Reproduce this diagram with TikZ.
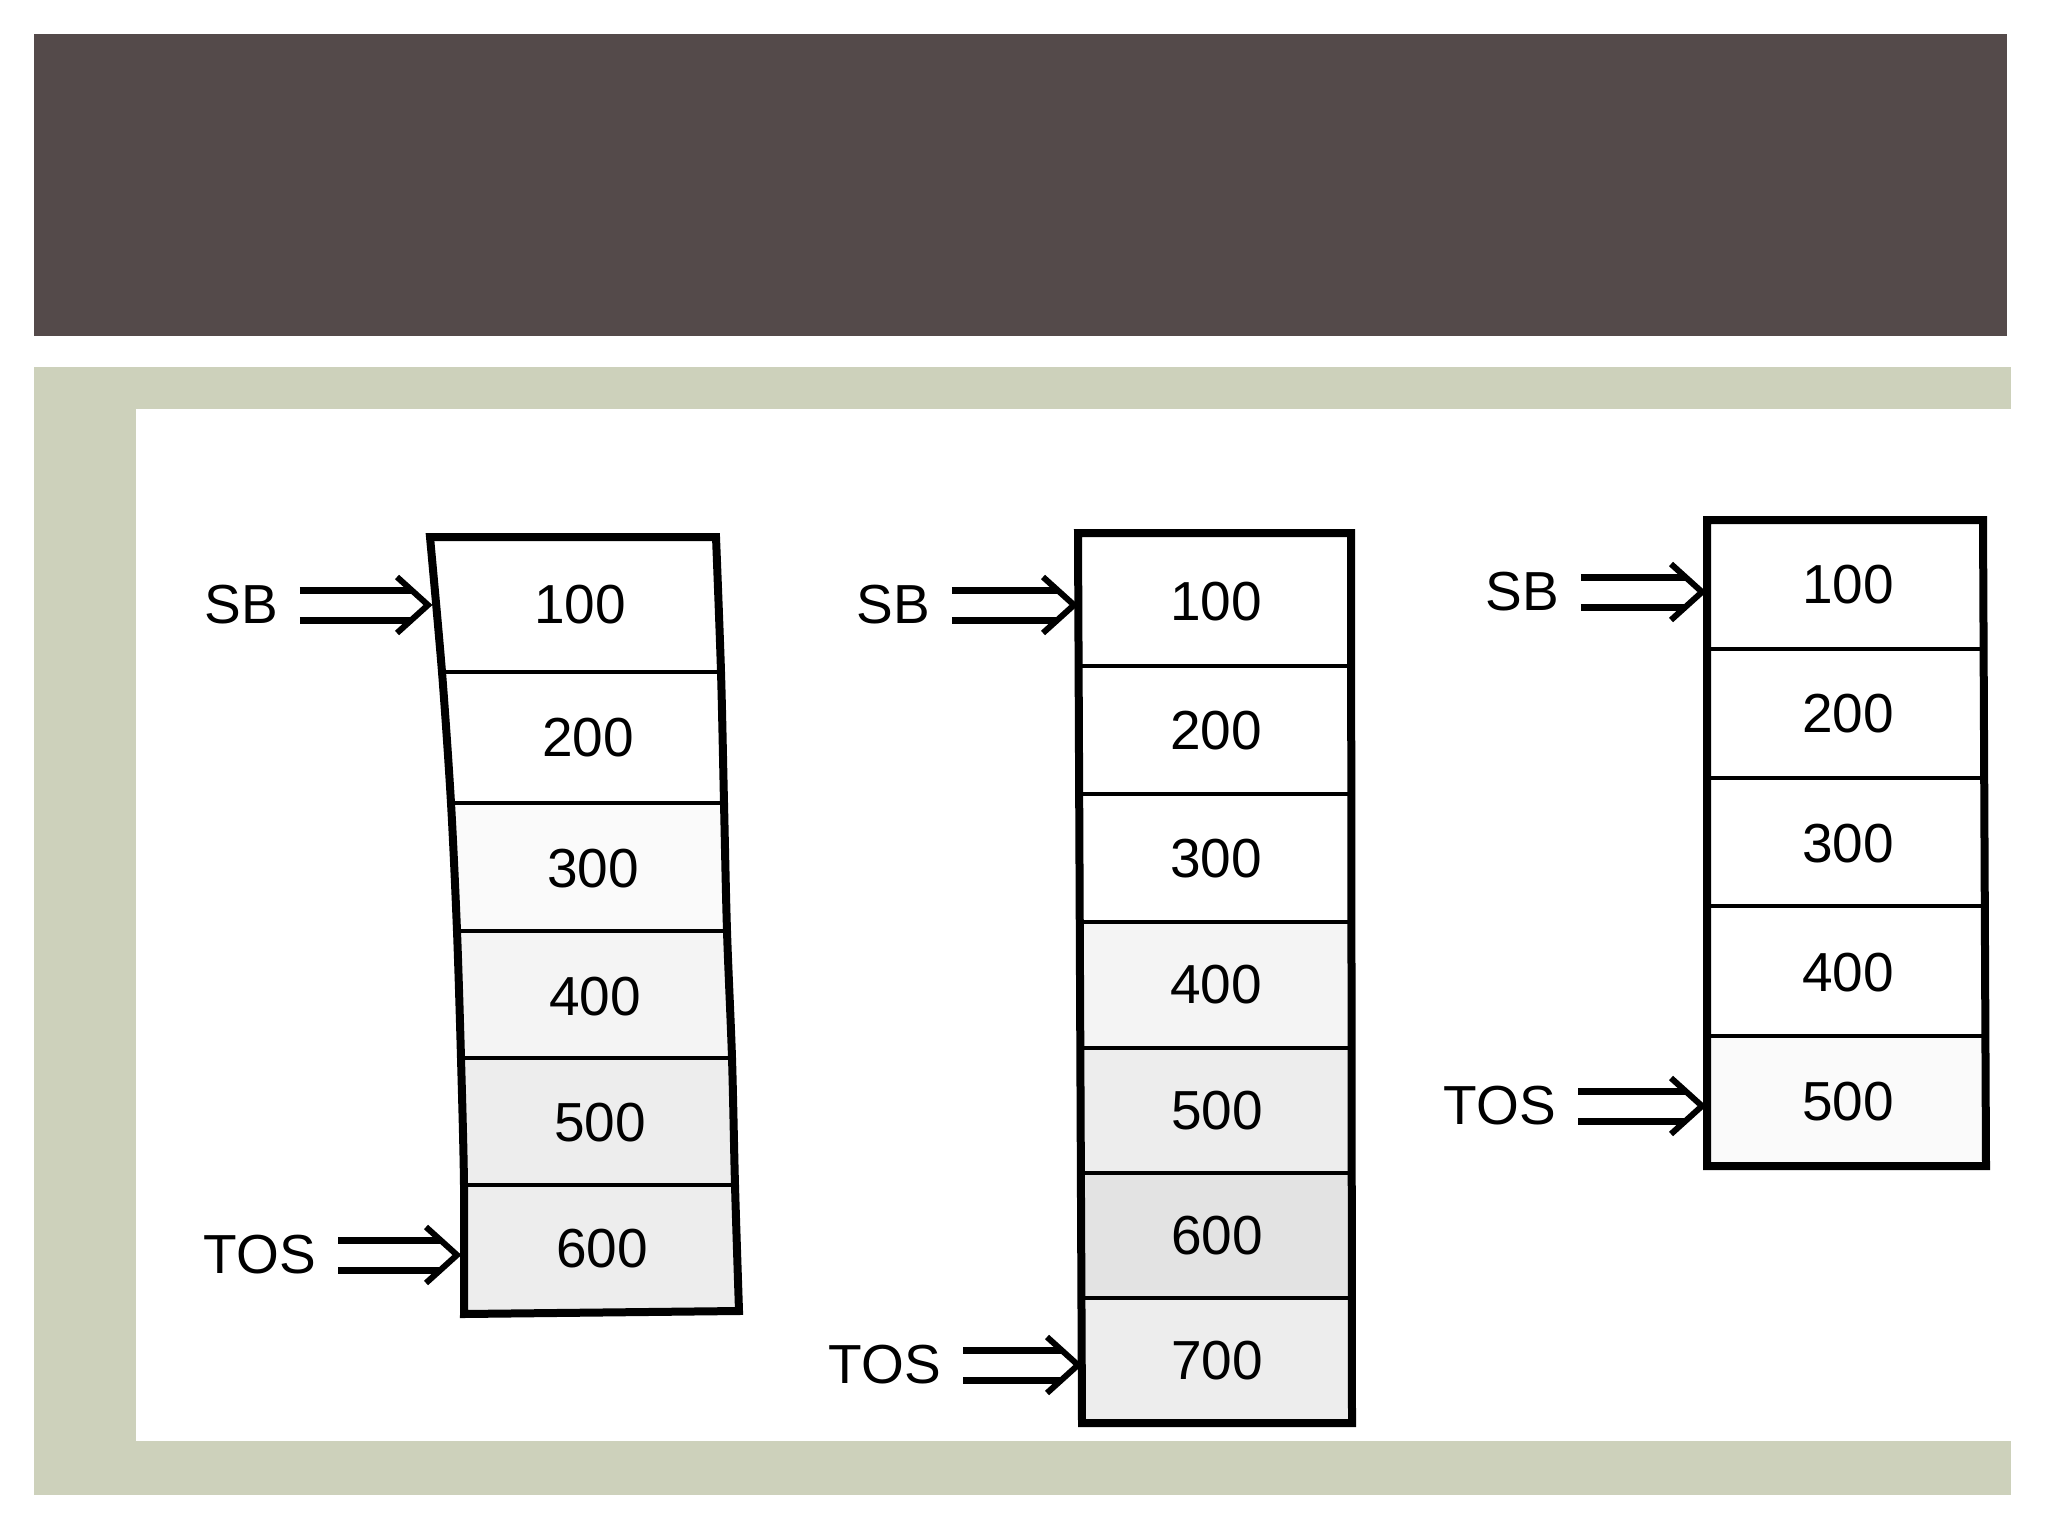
\documentclass[tikz,border=0pt]{standalone}
\usepackage{fontspec}
\setmainfont{Liberation Sans}
\definecolor{banddark}{RGB}{84,74,74}
\definecolor{framegreen}{RGB}{205,209,187}
\definecolor{shadeA}{RGB}{250,250,250}
\definecolor{shadeB}{RGB}{244,244,244}
\definecolor{shadeC}{RGB}{237,237,237}
\definecolor{shadeD}{RGB}{227,227,227}
\newcommand{\dblarrow}[2]{%
  \draw[arrline] ([yshift=15pt]#1) -- ([xshift=-16pt,yshift=15pt]#2);
  \draw[arrline] ([yshift=-15pt]#1) -- ([xshift=-16pt,yshift=-15pt]#2);
  \draw[chev] ([xshift=-31pt,yshift=28pt]#2) -- (#2) -- ([xshift=-31pt,yshift=-28pt]#2);}
\begin{document}
\begin{tikzpicture}[x=1pt,y=-1pt,
  lbl/.style={font=\fontsize{55}{60}\selectfont, inner xsep=22pt, inner ysep=0pt, anchor=center},
  val/.style={font=\fontsize{55}{60}\selectfont, inner sep=0pt, anchor=center},
  frame/.style={line width=8pt, line join=miter},
  divider/.style={line width=4pt},
  arrline/.style={line width=7pt, line cap=butt},
  chev/.style={line width=6pt, line join=miter, line cap=butt}]
\useasboundingbox (0,0) rectangle (2048,1536);
\fill[white] (0,0) rectangle (2048,1536);
% slide background
\fill[banddark] (34,34) rectangle (2007,336);
\fill[framegreen] (34,367) rectangle (2011,1495);
\fill[white] (136,409) rectangle (2011,1441);

% ---------- stack 1 (slightly bent scan) ----------
\fill[shadeA] (452,803) -- (724,803) -- (727,931) -- (457,931) -- cycle;
\fill[shadeB] (457,931) -- (727,931) -- (733,1058) -- (461,1058) -- cycle;
\fill[shadeC] (461,1058) -- (733,1058) -- (735,1185) -- (464,1185) -- cycle;
\fill[shadeC] (464,1185) -- (735,1185) -- (739,1312) -- (464,1314) -- cycle;
\draw[divider] (442,672) -- (721,672);
\draw[divider] (451,803) -- (724,803);
\draw[divider] (457,931) -- (727,931);
\draw[divider] (461,1058) -- (733,1058);
\draw[divider] (463,1185) -- (735,1185);
\draw[frame] (430,537) -- (716,537)
  -- plot[smooth] coordinates {(716,537) (721,672) (724,803) (727,931) (732,1058) (735,1185) (739,1311)}
  -- (464,1314)
  -- plot[smooth] coordinates {(464,1314) (464,1185) (461,1058) (457,931) (451,803) (442,672) (430,537)}
  -- cycle;
\node[val] (a1) at (580,605) {100};
\node[val] (a2) at (588,738) {200};
\node[val] (a3) at (593,869) {300};
\node[val] (a4) at (595,997) {400};
\node[val] (a5) at (600,1123) {500};
\node[val] (a6) at (602,1249) {600};
\node[lbl] (sb1) at (241,605) {SB};
\node[lbl] (tos1) at (260,1255) {TOS};
\coordinate (tsb1) at (428,605);
\coordinate (ttos1) at (457,1255);
\dblarrow{sb1.east}{tsb1}
\dblarrow{tos1.east}{ttos1}

% ---------- stack 2 ----------
\fill[shadeB] (1080,922) rectangle (1351,1048);
\fill[shadeC] (1080,1048) rectangle (1351,1173);
\fill[shadeD] (1080,1173) rectangle (1351,1298);
\fill[shadeC] (1080,1298) rectangle (1351,1423);
\draw[divider] (1079,666) -- (1351,666);
\draw[divider] (1079,794) -- (1351,794);
\draw[divider] (1080,922) -- (1351,922);
\draw[divider] (1080,1048) -- (1351,1048);
\draw[divider] (1081,1173) -- (1352,1173);
\draw[divider] (1081,1298) -- (1352,1298);
\draw[frame] (1078,533) -- (1351,533) -- (1352,1423) -- (1082,1423) -- cycle;
\node[val] (b1) at (1216,602) {100};
\node[val] (b2) at (1216,731) {200};
\node[val] (b3) at (1216,859) {300};
\node[val] (b4) at (1216,985) {400};
\node[val] (b5) at (1217,1111) {500};
\node[val] (b6) at (1217,1236) {600};
\node[val] (b7) at (1217,1361) {700};
\node[lbl] (sb2) at (893,605) {SB};
\node[lbl] (tos2) at (885,1365) {TOS};
\coordinate (tsb2) at (1074,605);
\coordinate (ttos2) at (1078,1365);
\dblarrow{sb2.east}{tsb2}
\dblarrow{tos2.east}{ttos2}

% ---------- stack 3 ----------
\fill[shadeA] (1707,1036) rectangle (1985,1166);
\draw[divider] (1707,649) -- (1984,649);
\draw[divider] (1707,778) -- (1984,778);
\draw[divider] (1707,906) -- (1985,906);
\draw[divider] (1707,1036) -- (1985,1036);
\draw[frame] (1707,520) -- (1983,520) -- (1986,1166) -- (1707,1166) -- cycle;
\node[val] (c1) at (1848,585) {100};
\node[val] (c2) at (1848,714) {200};
\node[val] (c3) at (1848,844) {300};
\node[val] (c4) at (1848,973) {400};
\node[val] (c5) at (1848,1102) {500};
\node[lbl] (sb3) at (1522,592) {SB};
\node[lbl] (tos3) at (1500,1106) {TOS};
\coordinate (tsb3) at (1702,592);
\coordinate (ttos3) at (1702,1106);
\dblarrow{sb3.east}{tsb3}
\dblarrow{tos3.east}{ttos3}
\end{tikzpicture}
\end{document}
